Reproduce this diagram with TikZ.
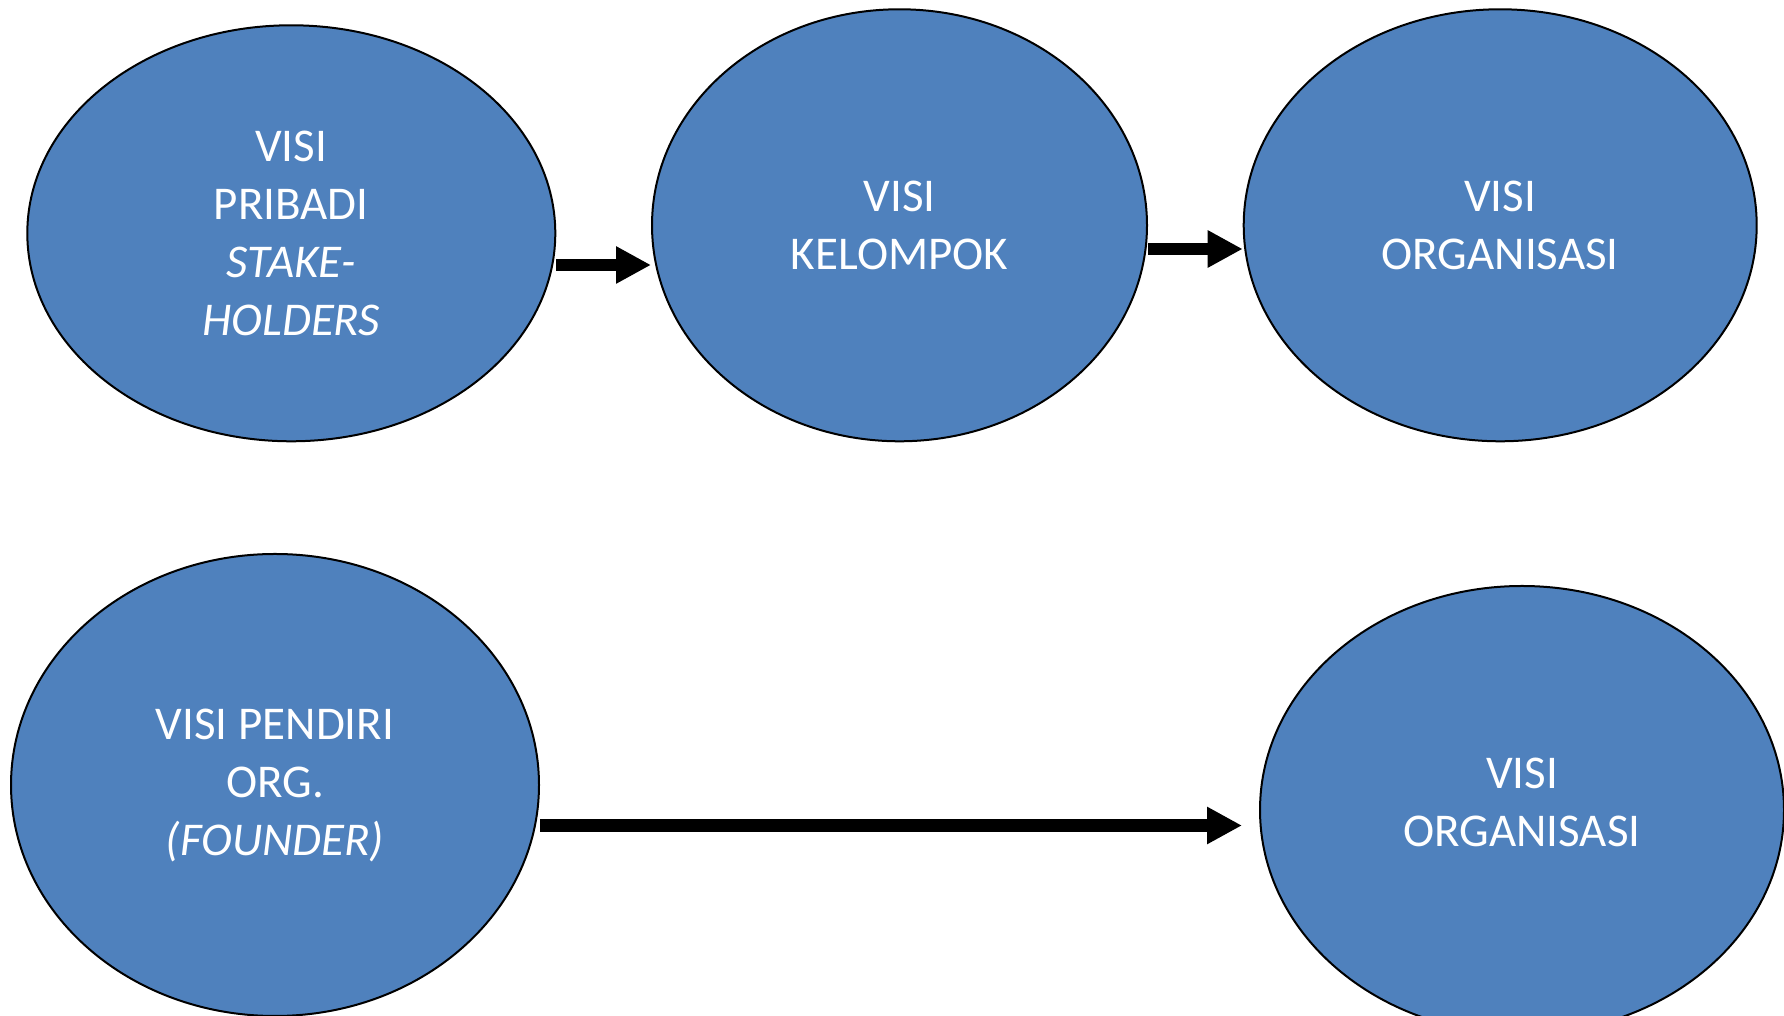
\documentclass[tikz,border=0pt]{standalone}
\usepackage{fontspec}
\setmainfont{Carlito}
\usetikzlibrary{shapes.geometric,arrows.meta}
\definecolor{vblue}{HTML}{4F81BD}
\tikzset{
  vis/.style={ellipse, draw=black, line width=2pt, fill=vblue, inner sep=0pt,
    text=white, align=center, font=\fontsize{47}{58}\selectfont},
  blk/.style={line width=12.5pt, -{Triangle[length=35pt,width=35pt]}}
}
\begin{document}
\begin{tikzpicture}[x=1pt,y=1pt]
\useasboundingbox (0,0) rectangle (1784,1016);
\node[vis, minimum width=528pt, minimum height=416pt] (e1) at (291.3,782.7)
  {VISI\\PRIBADI\\\textit{STAKE-}\\\textit{HOLDERS}};
\node[vis, minimum width=495pt, minimum height=432pt] (e2) at (899.5,790.7)
  {VISI\\KELOMPOK};
\node[vis, minimum width=513pt, minimum height=432pt] (e3) at (1500.2,790.7)
  {VISI\\ORGANISASI};
\node[vis, minimum width=528pt, minimum height=462pt] (e4) at (275,231)
  {VISI PENDIRI\\ORG.\\\textit{(FOUNDER)}};
\node[vis, minimum width=524pt, minimum height=448pt] (e5) at (1522,206)
  {VISI\\ORGANISASI\\[-42pt]\mbox{}};
\draw[blk] (e1.east |- 0,751) -- (e2.west |- 0,751);
\draw[blk] (e2.east |- 0,767) -- (e3.west |- 0,767);
\draw[blk, shorten >=17pt] (e4.east |- 0,190.5) -- (e5.west |- 0,190.5);
\end{tikzpicture}
\end{document}
